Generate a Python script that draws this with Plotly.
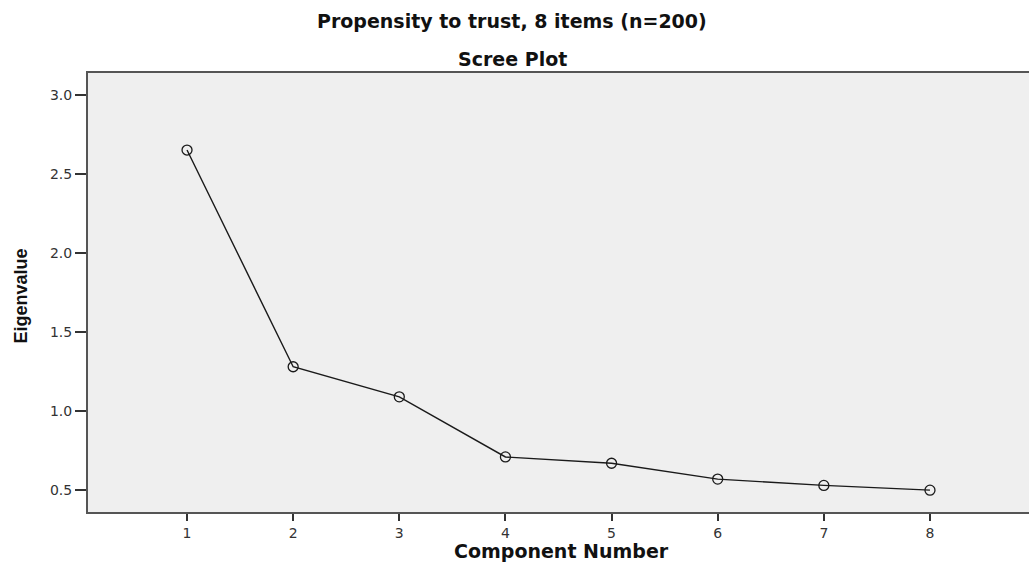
import plotly.graph_objects as go

# Scree plot data: eigenvalues per extracted component
components = [1, 2, 3, 4, 5, 6, 7, 8]
eigenvalues = [2.65, 1.28, 1.09, 0.71, 0.67, 0.57, 0.53, 0.50]
y_ticks = [0.5, 1.0, 1.5, 2.0, 2.5, 3.0]
y_tick_labels = ["0.5", "1.0", "1.5", "2.0", "2.5", "3.0"]

WIDE = "DejaVu Sans, Verdana, sans-serif"
NARROW = "Liberation Sans Narrow, Liberation Sans, Arial"

fig = go.Figure()
fig.add_trace(go.Scatter(
    x=components,
    y=eigenvalues,
    mode="lines+markers",
    line=dict(color="#1a1a1a", width=1.4),
    marker=dict(symbol="circle-open", size=10, color="#1a1a1a", line=dict(width=1.3)),
    showlegend=False,
    hoverinfo="x+y",
))

center_x = (512 - 88) / 941

# Titles
fig.add_annotation(
    text="<b>Propensity to trust, 8 items (n=200)</b>",
    xref="paper", yref="paper", x=center_x, y=1,
    yshift=52, xanchor="center", yanchor="middle", showarrow=False,
    font=dict(family=WIDE, size=19, color="#111111"),
)
fig.add_annotation(
    text="<b>Scree Plot</b>",
    xref="paper", yref="paper", x=center_x, y=1,
    yshift=14, xanchor="center", yanchor="middle", showarrow=False,
    font=dict(family=WIDE, size=19, color="#111111"),
)

# Axis titles
fig.add_annotation(
    text="<b>Component Number</b>",
    xref="paper", yref="paper", x=(561 - 88) / 941, y=0,
    yshift=-39, xanchor="center", yanchor="middle", showarrow=False,
    font=dict(family=WIDE, size=19, color="#111111"),
)
fig.add_annotation(
    text="<b>Eigenvalue</b>",
    xref="paper", yref="paper", x=0, y=0.5,
    xshift=-68, yshift=-4, xanchor="center", yanchor="middle", showarrow=False,
    textangle=-90,
    font=dict(family=NARROW, size=18, color="#111111"),
)

fig.update_layout(
    width=1029,
    height=565,
    margin=dict(l=88, r=0, t=73, b=53),
    paper_bgcolor="white",
    plot_bgcolor="#efefef",
    xaxis=dict(
        range=[0.067, 8.933],
        tickmode="array",
        tickvals=components,
        ticktext=[str(c) for c in components],
        ticks="outside", ticklen=7, tickwidth=2, tickcolor="#333333",
        showline=True, linecolor="#555555", linewidth=2, mirror=True,
        showgrid=False, zeroline=False,
        tickfont=dict(family=WIDE, size=14, color="#333333"),
    ),
    yaxis=dict(
        range=[0.362, 3.137],
        tickmode="array",
        tickvals=y_ticks,
        ticktext=y_tick_labels,
        ticks="outside", ticklen=11, tickwidth=2, tickcolor="#333333",
        showline=True, linecolor="#555555", linewidth=2,
        showgrid=False, zeroline=False,
        tickfont=dict(family=WIDE, size=14, color="#333333"),
    ),
)

fig.write_html("out.html")
